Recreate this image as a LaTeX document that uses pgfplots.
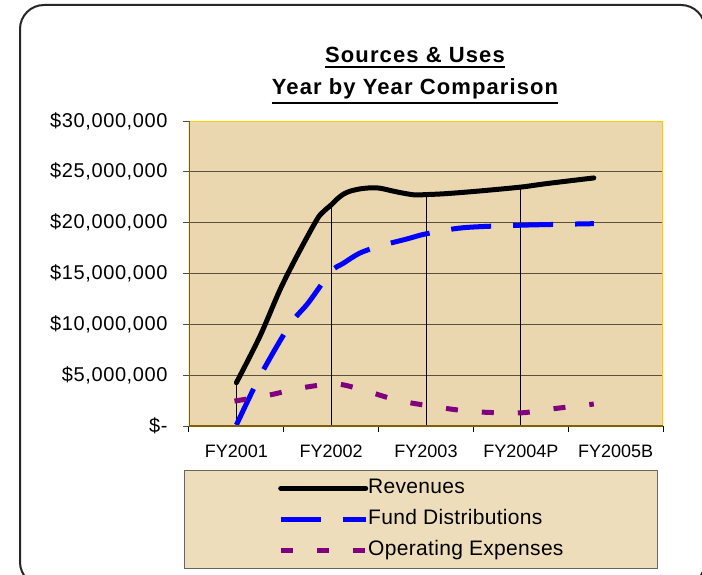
\documentclass[border=0pt]{standalone}
\usepackage{fontspec}
\setmainfont{Liberation Sans}
\usepackage{pgfplots}
\pgfplotsset{compat=1.18}
\definecolor{parch}{RGB}{234,215,176}
\definecolor{parchL}{RGB}{237,221,186}
\definecolor{olivedark}{RGB}{128,96,0}
\definecolor{gold}{RGB}{255,204,0}
\definecolor{gridc}{RGB}{90,80,60}
\definecolor{fundblue}{RGB}{0,0,255}
\definecolor{oppurple}{RGB}{128,0,128}
\begin{document}
\begin{tikzpicture}[x=1pt,y=1pt]
\clip (0,0) rectangle (702,-575);
\draw[line width=2pt, draw=black!85, rounded corners=24pt] (20,-5) rectangle (705,-586);
\node[anchor=base, inner sep=0pt, font=\fontsize{22}{26}\selectfont\bfseries\addfontfeatures{LetterSpace=5}] (t1) at (415,-63) {Sources \& Uses};
\node[anchor=base, inner sep=0pt, font=\fontsize{22}{26}\selectfont\bfseries\addfontfeatures{LetterSpace=5}] (t2) at (415,-95) {Year by Year Comparison};
\draw[line width=1.8pt] ([yshift=-4pt]t1.base west) -- ([yshift=-4pt]t1.base east);
\draw[line width=1.8pt] ([yshift=-8pt]t2.base west) -- ([yshift=-8pt]t2.base east);
\draw[fill=parchL, draw=black!60, line width=1pt] (184,-470) rectangle (657,-568);
\begin{axis}[
  at={(189pt,-426pt)}, anchor=south west,
  width=474pt, height=305pt, scale only axis,
  xmin=0.5, xmax=5.5, ymin=0, ymax=30,
  xtick={1,2,3,4,5},
  xticklabels={FY2001,FY2002,FY2003,FY2004P,FY2005B},
  minor xtick={0.5,1.5,2.5,3.5,4.5,5.5},
  ytick={0,5,10,15,20,25,30},
  yticklabels={{\$-\hspace{22pt}},{\$5,000,000},{\$10,000,000},{\$15,000,000},{\$20,000,000},{\$25,000,000},{\$30,000,000}},
  tick align=outside, xtick pos=bottom, ytick pos=left,
  major tick length=6pt, minor tick length=6pt,
  major x tick style={draw=none},
  minor x tick style={black, line width=1pt},
  major y tick style={black!70, line width=1pt},
  axis line style={draw=none},
  ymajorgrids,
  grid style={gridc, line width=0.9pt},
  axis background/.style={fill=parch},
  yticklabel style={font=\fontsize{20}{24}\selectfont\addfontfeatures{LetterSpace=3}, xshift=-12pt},
  xticklabel style={font=\fontsize{18}{21}\selectfont, yshift=-9pt},
  legend image code/.code={\draw[#1] (0pt,0pt) -- (85pt,0pt);},
  legend cell align=left,
  legend style={at={(axis description cs:0.1878,-0.1705)}, anchor=north west,
    draw=none, fill=none, inner sep=0pt, row sep=11pt,
    font=\fontsize{21}{25}\selectfont\addfontfeatures{LetterSpace=1.5},
    nodes={inner sep=0pt, text height=15pt, text depth=5pt},
    /tikz/every even column/.append style={column sep=6pt}},
]
\addplot[ycomb, black, line width=1pt, forget plot] coordinates {(1,4.26) (2,21.78) (3,22.76) (4,23.5)};
\addplot[black, line width=5pt, line cap=round, smooth, tension=0.5] coordinates {
(1,4.26) (1.246,8.78) (1.458,13.36) (1.634,16.64) (1.845,20.24) (1.915,21.06) (2.004,21.78) (2.056,22.27) (2.127,22.79) (2.197,23.09) (2.303,23.32) (2.408,23.42) (2.514,23.39) (2.69,23.03) (2.87,22.74) (3.0,22.76) (3.22,22.86) (3.57,23.12) (4,23.5) (4.27,23.84) (4.77,24.4)};
\addlegendentry{Revenues}
\addplot[fundblue, line width=5pt, dash pattern=on 40pt off 22pt, smooth, tension=0.5] coordinates {
(1,0.1) (1.246,4.85) (1.56,9.9) (1.757,12.1) (2,15.2) (2.127,16.0) (2.30,17.0) (2.51,17.7) (2.80,18.4) (3.0,18.9) (3.39,19.5) (4,19.75) (4.77,19.9)};
\addlegendentry{Fund Distributions}
\addplot[oppurple, line width=5pt, dash pattern=on 12pt off 24pt, smooth, tension=0.5] coordinates {
(0.98,2.45) (1.35,3.05) (1.70,3.77) (2.06,4.13) (2.37,3.44) (2.69,2.55) (3.04,1.97) (3.43,1.47) (3.75,1.31) (4.03,1.31) (4.38,1.74) (4.77,2.16)};
\addlegendentry{Operating Expenses}
\draw[gold, line width=2pt] (rel axis cs:0,1) -- (rel axis cs:1,1) -- (rel axis cs:1,0);
\draw[olivedark, line width=2pt] (rel axis cs:0,1) -- (rel axis cs:0,0) -- (rel axis cs:1,0);
\end{axis}
\end{tikzpicture}
\end{document}
